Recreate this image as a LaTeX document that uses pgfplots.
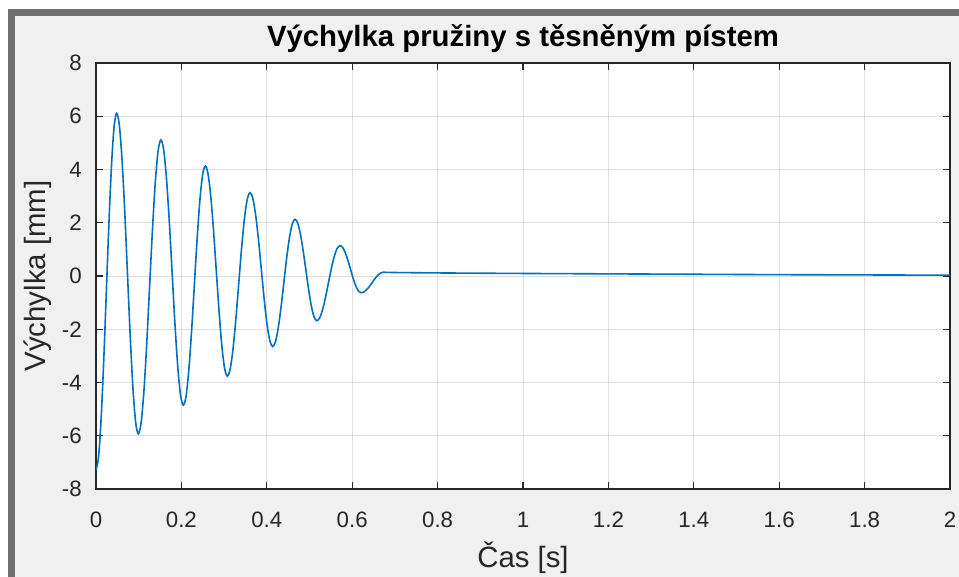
\documentclass[border=0pt]{standalone}
\usepackage{fontspec}
\setmainfont{Liberation Sans}
\usepackage{pgfplots}
\pgfplotsset{compat=1.18}
\definecolor{mblue}{RGB}{0,114,189}
\definecolor{axgray}{RGB}{38,38,38}
\definecolor{figbg}{RGB}{240,240,240}
\definecolor{framegray}{RGB}{112,112,112}
\definecolor{gridgray}{RGB}{223,223,223}
\begin{document}
\begin{tikzpicture}
\useasboundingbox (0,0) rectangle (719.25pt,432.75pt);
\fill[white] (0,0) rectangle (719.25pt,432.75pt);
\fill[framegray] (6pt,0) rectangle (719.25pt,426pt);
\fill[figbg] (11.25pt,0) rectangle (719.25pt,420.75pt);
\begin{axis}[
  at={(72pt,66pt)}, anchor=south west,
  scale only axis, width=640.5pt, height=319.5pt,
  xmin=0, xmax=2, ymin=-8, ymax=8,
  xtick={0,0.2,...,2.01}, ytick={-8,-6,...,8},
  grid=major,
  major grid style={color=gridgray, line width=0.6pt},
  axis background/.style={fill=white},
  axis line style={color=axgray, line width=0.9pt},
  tick style={color=axgray, line width=0.9pt},
  tick align=inside, major tick length=5.25pt,
  /pgf/number format/assume math mode=true,
  ticklabel style={font=\fontsize{16.7}{20}\selectfont, text=axgray, inner sep=0pt},
  xticklabel style={anchor=base, yshift=-29.25pt},
  yticklabel style={anchor=east, xshift=-10.5pt},
  xlabel={Čas [s]}, ylabel={Výchylka [mm]},
  label style={font=\fontsize{22}{26}\selectfont, text=axgray},
  xlabel style={at={(axis description cs:0.5,-0.1831)}, anchor=base},
  ylabel style={at={(axis description cs:-0.0685,0.5)}, anchor=center, rotate=0},
  title={Výchylka pružiny s těsněným pístem},
  title style={font=\fontsize{22}{26}\selectfont\bfseries, text=black, at={(axis description cs:0.5,1.0188)}, anchor=base, yshift=0pt},
]
\addplot[mblue, line width=1.2pt, smooth] coordinates {
(0,-7.3) (0.00605,-6.790) (0.0121,-5.336) (0.01815,-3.161) (0.0242,-0.595) (0.03025,1.971) (0.0363,4.146) (0.04235,5.600)
(0.0484,6.11) (0.05473,5.652) (0.06105,4.347) (0.06738,2.394) (0.0737,0.09) (0.08003,-2.214) (0.08635,-4.167) (0.09268,-5.472)
(0.099,-5.93) (0.10563,-5.510) (0.11225,-4.313) (0.11888,-2.523) (0.1255,-0.41) (0.13213,1.703) (0.13875,3.493) (0.14538,4.690)
(0.152,5.11) (0.15856,4.731) (0.16513,3.651) (0.17169,2.036) (0.17825,0.13) (0.18481,-1.776) (0.19138,-3.391) (0.19794,-4.471)
(0.2045,-4.85) (0.21094,-4.508) (0.21738,-3.535) (0.22381,-2.078) (0.23025,-0.36) (0.23669,1.358) (0.24313,2.815) (0.24956,3.788)
(0.256,4.13) (0.26244,3.830) (0.26888,2.975) (0.27531,1.695) (0.28175,0.185) (0.28819,-1.325) (0.29463,-2.605) (0.30106,-3.460)
(0.3075,-3.76) (0.31415,-3.498) (0.3208,-2.751) (0.32745,-1.633) (0.3341,-0.315) (0.34075,1.003) (0.3474,2.121) (0.35405,2.868)
(0.3607,3.13) (0.36733,2.910) (0.37395,2.284) (0.38058,1.346) (0.3872,0.24) (0.39383,-0.866) (0.40045,-1.804) (0.40708,-2.430)
(0.4137,-2.65) (0.42024,-2.468) (0.42678,-1.950) (0.43331,-1.175) (0.43985,-0.26) (0.44639,0.655) (0.45293,1.430) (0.45946,1.948)
(0.466,2.13) (0.47238,1.985) (0.47875,1.572) (0.48513,0.954) (0.4915,0.225) (0.49788,-0.504) (0.50425,-1.122) (0.51063,-1.535)
(0.517,-1.68) (0.5238,-1.573) (0.5306,-1.267) (0.5374,-0.810) (0.5442,-0.27) (0.551,0.270) (0.5578,0.727) (0.5646,1.033)
(0.5714,1.14) (0.57755,1.073) (0.5837,0.881) (0.58985,0.594) (0.596,0.255) (0.60215,-0.084) (0.6083,-0.371) (0.61445,-0.563)
(0.6206,-0.63) (0.62715,-0.601) (0.6337,-0.517) (0.64025,-0.392) (0.6468,-0.245) (0.65335,-0.098) (0.6599,0.027) (0.66645,0.111)
(0.673,0.14) (0.7,0.13) (0.8,0.115) (1.0,0.095) (1.2,0.08) (1.4,0.065) (1.6,0.05) (1.8,0.04) (2.0,0.03)
};
\end{axis}
\end{tikzpicture}
\end{document}
